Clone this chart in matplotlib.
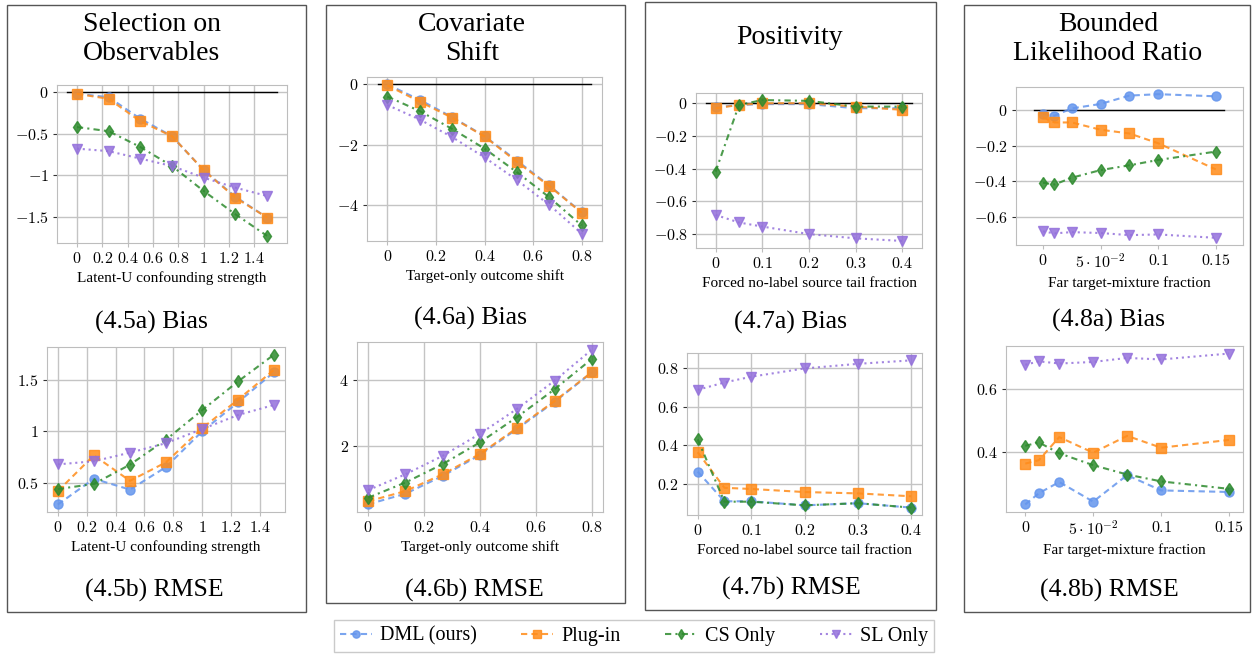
import matplotlib
matplotlib.use("Agg")
import matplotlib.pyplot as plt
from matplotlib.patches import Rectangle
from matplotlib.ticker import FuncFormatter

plt.rcParams["font.family"] = ["Liberation Serif", "DejaVu Serif"]
plt.rcParams["mathtext.fontset"] = "cm"

# ---------------- data ----------------
x_sel = [0, 0.25, 0.5, 0.75, 1.0, 1.25, 1.5]
sel_bias_dml = [-0.02, -0.06, -0.32, -0.53, -0.94, -1.26, -1.51]
sel_bias_plug = [-0.02, -0.08, -0.35, -0.53, -0.94, -1.27, -1.51]
sel_bias_cs = [-0.42, -0.47, -0.66, -0.89, -1.19, -1.47, -1.73]
sel_bias_sl = [-0.68, -0.71, -0.80, -0.89, -1.03, -1.15, -1.25]
sel_rmse_dml = [0.29, 0.54, 0.435, 0.654, 1.0, 1.284, 1.578]
sel_rmse_plug = [0.42, 0.768, 0.52, 0.70, 1.03, 1.31, 1.60]
sel_rmse_cs = [0.44, 0.49, 0.677, 0.92, 1.206, 1.487, 1.748]
sel_rmse_sl = [0.68, 0.71, 0.794, 0.886, 1.023, 1.16, 1.258]

x_cov = [0, 0.1333, 0.2667, 0.4, 0.5333, 0.6667, 0.8]
cov_bias_dml = [0.0, -0.51, -1.08, -1.71, -2.52, -3.34, -4.23]
cov_bias_plug = [-0.03, -0.57, -1.10, -1.72, -2.56, -3.36, -4.24]
cov_bias_cs = [-0.40, -0.88, -1.47, -2.12, -2.90, -3.73, -4.66]
cov_bias_sl = [-0.68, -1.16, -1.74, -2.41, -3.16, -3.98, -4.93]
cov_rmse_dml = [0.24, 0.56, 1.10, 1.74, 2.53, 3.35, 4.24]
cov_rmse_plug = [0.33, 0.64, 1.15, 1.77, 2.56, 3.37, 4.25]
cov_rmse_cs = [0.44, 0.90, 1.46, 2.12, 2.89, 3.73, 4.65]
cov_rmse_sl = [0.67, 1.15, 1.71, 2.38, 3.14, 3.99, 4.93]

x_pos = [0, 0.05, 0.1, 0.2, 0.3, 0.4]
pos_bias_dml = [-0.025, -0.01, -0.005, -0.005, -0.03, -0.03]
pos_bias_plug = [-0.03, -0.01, 0.0, 0.0, -0.02, -0.04]
pos_bias_cs = [-0.418, -0.01, 0.02, 0.015, -0.02, -0.02]
pos_bias_sl = [-0.683, -0.729, -0.754, -0.80, -0.826, -0.842]
pos_rmse_dml = [0.264, 0.11, 0.11, 0.089, 0.10, 0.077]
pos_rmse_plug = [0.365, 0.18, 0.174, 0.158, 0.151, 0.136]
pos_rmse_cs = [0.432, 0.108, 0.108, 0.089, 0.10, 0.077]
pos_rmse_sl = [0.689, 0.727, 0.757, 0.80, 0.824, 0.842]

x_blr = [0, 0.01, 0.025, 0.05, 0.075, 0.1, 0.15]
blr_bias_dml = [-0.023, -0.032, 0.009, 0.034, 0.081, 0.089, 0.077]
blr_bias_plug = [-0.042, -0.07, -0.07, -0.111, -0.132, -0.187, -0.334]
blr_bias_cs = [-0.409, -0.419, -0.381, -0.338, -0.311, -0.281, -0.234]
blr_bias_sl = [-0.683, -0.694, -0.687, -0.692, -0.704, -0.70, -0.719]
blr_rmse_dml = [0.231, 0.267, 0.303, 0.240, 0.325, 0.276, 0.271]
blr_rmse_plug = [0.362, 0.373, 0.447, 0.397, 0.451, 0.413, 0.438]
blr_rmse_cs = [0.419, 0.43, 0.395, 0.357, 0.327, 0.305, 0.281]
blr_rmse_sl = [0.679, 0.690, 0.683, 0.688, 0.701, 0.696, 0.715]

methods = ["DML (ours)", "Plug-in", "CS Only", "SL Only"]
colors = ["#6495ED", "#FF8C1A", "#2E8B2E", "#9370DB"]
markers = ["o", "s", "d", "v"]
styles = [(0, (3, 2)), (0, (3, 2)), (0, (3, 2, 1, 2)), (0, (1, 1.8))]

W, H = 1253, 655
fig = plt.figure(figsize=(W / 100, H / 100), dpi=100)


def px_axes(x0, y0, x1, y1):
    return fig.add_axes([x0 / W, 1 - y1 / H, (x1 - x0) / W, (y1 - y0) / H])


def fmt(v, pos):
    if abs(v) < 1e-12:
        return "$0$"
    return "$%g$" % v


def draw(ax, x, series, xlabel, yticks, xticks, zero=False, xgrid=True, xlim=None):
    if zero:
        r = x[-1] - x[0]
        ax.plot([x[0] - 0.05 * r, x[-1] + 0.05 * r], [0, 0], color="black", lw=1.0, zorder=2)
    for ys, c, m, ls, lab in zip(series, colors, markers, styles, methods):
        ax.plot(x, ys, color=c, ls=ls, lw=1.5, marker=m, ms=6.5, mec=c, mfc=c,
                alpha=0.85, label=lab, zorder=3)
    ax.set_yticks(yticks)
    ax.set_xticks(xticks)
    ax.yaxis.set_major_formatter(FuncFormatter(fmt))
    ax.xaxis.set_major_formatter(FuncFormatter(fmt))
    if xlim is not None:
        ax.set_xlim(*xlim)
    ax.grid(True, axis="y", color="#c4c4c4", lw=1.0)
    if xgrid:
        ax.grid(True, axis="x", color="#c4c4c4", lw=1.0)
    ax.set_axisbelow(True)
    for s in ax.spines.values():
        s.set_color("#bdbdbd")
    ax.tick_params(axis="y", length=3, color="#333333", labelsize=11.5, pad=3)
    ax.tick_params(axis="x", length=3, color="#bdbdbd", labelsize=11.5, pad=3)
    ax.set_xlabel(xlabel, fontsize=11, labelpad=3)


# panel 1
ax = px_axes(57, 85, 287, 243)
draw(ax, x_sel, [sel_bias_dml, sel_bias_plug, sel_bias_cs, sel_bias_sl],
     "Latent-U confounding strength", [0, -0.5, -1, -1.5],
     [0, 0.2, 0.4, 0.6, 0.8, 1, 1.2, 1.4], zero=True)
ax = px_axes(47, 347, 285, 512)
draw(ax, x_sel, [sel_rmse_dml, sel_rmse_plug, sel_rmse_cs, sel_rmse_sl],
     "Latent-U confounding strength", [0.5, 1, 1.5],
     [0, 0.2, 0.4, 0.6, 0.8, 1, 1.2, 1.4])

# panel 2
ax = px_axes(367, 77, 602, 241)
draw(ax, x_cov, [cov_bias_dml, cov_bias_plug, cov_bias_cs, cov_bias_sl],
     "Target-only outcome shift", [0, -2, -4], [0, 0.2, 0.4, 0.6, 0.8], zero=True)
ax = px_axes(357, 342, 603, 512)
draw(ax, x_cov, [cov_rmse_dml, cov_rmse_plug, cov_rmse_cs, cov_rmse_sl],
     "Target-only outcome shift", [2, 4], [0, 0.2, 0.4, 0.6, 0.8])

# panel 3
ax = px_axes(696, 93, 922, 248)
draw(ax, x_pos, [pos_bias_dml, pos_bias_plug, pos_bias_cs, pos_bias_sl],
     "Forced no-label source tail fraction", [0, -0.2, -0.4, -0.6, -0.8],
     [0, 0.1, 0.2, 0.3, 0.4], zero=True)
ax = px_axes(687, 353, 922, 515)
draw(ax, x_pos, [pos_rmse_dml, pos_rmse_plug, pos_rmse_cs, pos_rmse_sl],
     "Forced no-label source tail fraction", [0.2, 0.4, 0.6, 0.8],
     [0, 0.1, 0.2, 0.3, 0.4])

# panel 4
blr_fmt = FuncFormatter(lambda v, p: r"$5\cdot10^{-2}$" if abs(v - 0.05) < 1e-9 else fmt(v, p))
ax = px_axes(1016, 87, 1243, 245)
draw(ax, x_blr, [blr_bias_dml, blr_bias_plug, blr_bias_cs, blr_bias_sl],
     "Far target-mixture fraction", [0, -0.2, -0.4, -0.6], [0, 0.05, 0.1, 0.15],
     zero=True, xgrid=False, xlim=(-0.0234, 0.1736))
ax.xaxis.set_major_formatter(blr_fmt)
ax = px_axes(1006, 346, 1243, 512)
draw(ax, x_blr, [blr_rmse_dml, blr_rmse_plug, blr_rmse_cs, blr_rmse_sl],
     "Far target-mixture fraction", [0.4, 0.6], [0, 0.05, 0.1, 0.15],
     xgrid=False, xlim=(-0.0142, 0.1603))
ax.xaxis.set_major_formatter(blr_fmt)

# panel frames
frames = [(7, 5, 306, 612), (326, 5, 625, 603), (645, 2, 936, 610), (964, 5, 1250, 612)]
for x0, y0, x1, y1 in frames:
    fig.patches.append(Rectangle((x0 / W, 1 - y1 / H), (x1 - x0) / W, (y1 - y0) / H,
                                 transform=fig.transFigure, fill=False,
                                 edgecolor="#555555", lw=1.0))

# titles and captions
titles = [("Selection on\nObservables", 152, 39), ("Covariate\nShift", 472, 39),
          ("Positivity", 790, 37), ("Bounded\nLikelihood Ratio", 1108, 39)]
for t, cx, cy in titles:
    fig.text(cx / W, 1 - cy / H, t, ha="center", va="center", fontsize=20, linespacing=1.2)

captions = [("(4.5a) Bias", 151, 322), ("(4.5b) RMSE", 154, 590),
            ("(4.6a) Bias", 471, 318), ("(4.6b) RMSE", 474, 590),
            ("(4.7a) Bias", 791, 322), ("(4.7b) RMSE", 791, 588),
            ("(4.8a) Bias", 1109, 320), ("(4.8b) RMSE", 1109, 590)]
for t, cx, cy in captions:
    fig.text(cx / W, 1 - cy / H, t, ha="center", va="center", fontsize=18.5)

handles, labels = ax.get_legend_handles_labels()
leg = fig.legend(handles, labels, loc="center", bbox_to_anchor=(634 / W, 1 - 636 / H),
                 ncol=4, frameon=True, fancybox=False, edgecolor="#bdbdbd",
                 fontsize=14.5, handlelength=1.6, columnspacing=2.2, handletextpad=0.4,
                 borderpad=0.3, markerscale=0.8)
leg.get_frame().set_linewidth(1.0)

fig.savefig("out.png", dpi=100)
